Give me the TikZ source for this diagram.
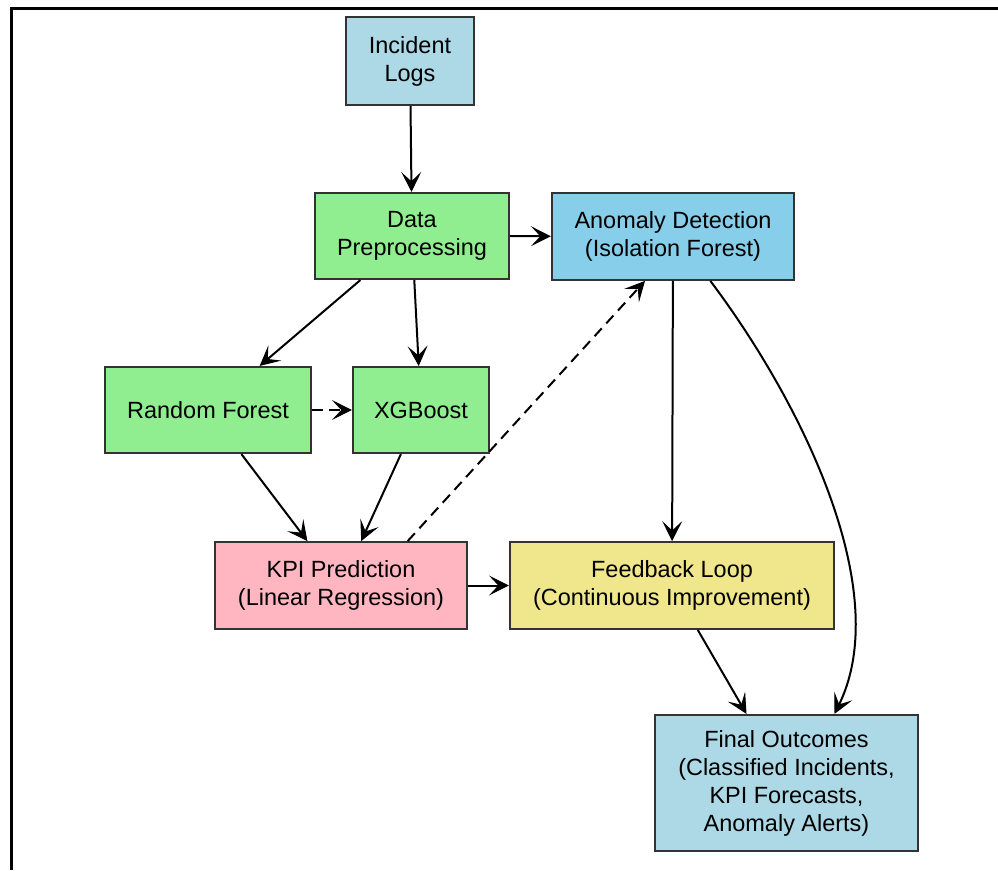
\documentclass[tikz,border=0pt]{standalone}
\usepackage{fontspec}
\setmainfont{Liberation Sans}
\usetikzlibrary{arrows.meta}
\definecolor{cLightBlue}{HTML}{ADD8E6}
\definecolor{cGreen}{HTML}{90EE90}
\definecolor{cSky}{HTML}{87CEEB}
\definecolor{cPink}{HTML}{FFB6C1}
\definecolor{cKhaki}{HTML}{F0E68C}
\definecolor{cBorder}{HTML}{333333}
\tikzset{
  boxnode/.style={draw=cBorder, line width=1.6pt, rectangle, inner sep=0pt,
    align=center, font=\fontsize{17.6}{21}\selectfont},
  conn/.style={line width=1.5pt, -{Stealth[length=15pt,width=15pt,inset=7pt,line width=0.8pt]}},
  dconn/.style={conn, dash pattern=on 8pt off 5pt},
}
\begin{document}
\begin{tikzpicture}[x=0.75pt,y=-0.75pt]
\useasboundingbox (0,0) rectangle (998,870);
\fill[white] (0,0) rectangle (998,870);
\coordinate (frTR) at (998,8.5);
\coordinate (frTL) at (11.5,8.5);
\coordinate (frBL) at (11.5,870);
\draw[line width=2.4pt, black] (frTR) -- (frTL) -- (frBL);

\node[boxnode, fill=cLightBlue, minimum width=96pt, minimum height=66pt] (inc) at (410,61) {Incident\\Logs};
\node[boxnode, fill=cGreen, minimum width=145.5pt, minimum height=64.5pt] (data) at (412,236) {Data\\Preprocessing};
\node[boxnode, fill=cSky, minimum width=181.5pt, minimum height=65pt] (anom) at (673,236.5) {Anomaly Detection\\(Isolation Forest)};
\node[boxnode, fill=cGreen, minimum width=154.5pt, minimum height=64.5pt] (rf) at (208,410) {Random Forest};
\node[boxnode, fill=cGreen, minimum width=102pt, minimum height=64.5pt] (xgb) at (421,410) {XGBoost};
\node[boxnode, fill=cPink, minimum width=189pt, minimum height=65pt] (kpi) at (341,585.5) {KPI Prediction\\(Linear Regression)};
\node[boxnode, fill=cKhaki, minimum width=243pt, minimum height=65pt] (fb) at (672,585.5) {Feedback Loop\\(Continuous Improvement)};
\node[boxnode, fill=cLightBlue, minimum width=197pt, minimum height=102pt] (fin) at (786.5,783) {Final Outcomes\\(Classified Incidents,\\KPI Forecasts,\\Anomaly Alerts)};

\draw[conn] (inc) -- (data);
\draw[conn] (data) -- (anom);
\draw[conn] (data) -- (rf);
\draw[conn] (data) -- (xgb);
\draw[dconn] (rf) -- (xgb);
\draw[conn] (rf) -- (kpi);
\draw[conn] (xgb) -- (kpi);
\draw[dconn] ([xshift=50pt]kpi.north) -- ([xshift=-21pt]anom.south);
\draw[conn] (kpi) -- (fb);
\draw[conn] (anom) -- (fb);
\draw[conn] (fb) -- (fin);
\draw[conn] ([xshift=28pt]anom.south) .. controls (800,400) and (895,590) .. ([xshift=36pt]fin.north);
\end{tikzpicture}
\end{document}
